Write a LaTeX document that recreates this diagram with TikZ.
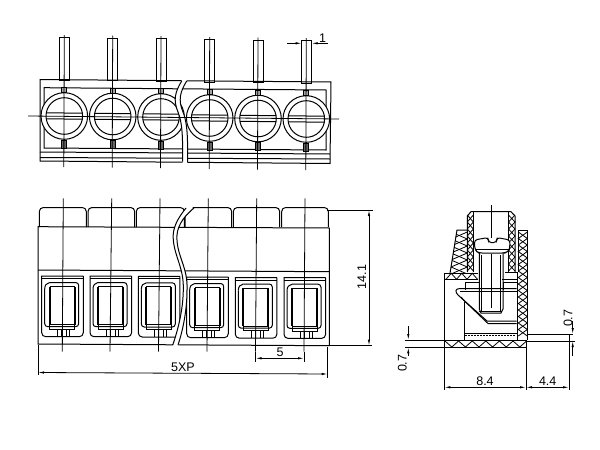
\documentclass[tikz,border=0pt]{standalone}
\usepackage{fontspec}
\setmainfont{Liberation Sans}
\usetikzlibrary{arrows.meta}
\tikzset{
	part/.style={black, line width=1pt},
	heavy/.style={black, line width=1.8pt},
	thin line/.style={black, line width=0.8pt},
	dimline/.style={black, line width=0.8pt, {Latex[length=6pt,width=2.4pt]}-{Latex[length=6pt,width=2.4pt]}},
	dimend/.style={black, line width=0.8pt, -{Latex[length=6pt,width=2.4pt]}},
	dimtext/.style={font=\fontsize{12.5}{12.5}\selectfont, inner sep=0pt}
}
\newcommand{\crosshatch}[5]{
	\foreach \i in {1,...,#4} {
		\draw [thin line] (#1,#3+\i*#5-#5) -- ++(#2,#5/2) -- ++(-#2,#5/2);
		\draw [thin line] (#1+#2,#3+\i*#5-#5) -- ++(-#2,#5/2) -- ++(#2,#5/2);
	}
}
\begin{document}
\begin{tikzpicture}[x=1pt,y=-1pt]
	\useasboundingbox [fill=white] (0,0) rectangle (600,450);

	\draw [part] (40,79.5) -- (331,82) -- (330,163.5) -- (40,161) -- cycle;
	\draw [part] (44,87.7) -- (326,90) -- (326,150) -- (44,148) -- cycle;
	\draw [part] (40,152) -- (330,154);
	\draw [part] (40,157.5) -- (330,159);
	\foreach \px/\py in {64.3/116, 112.7/116.5, 161/117, 209.7/118, 258/118.5, 306.3/119} {
		\draw [part] (\px-5,\py-78.5) rectangle (\px+5,\py-36);
		\draw [part, fill=white] (\px,\py) circle (23.3);
		\draw [part, fill=white] (\px,\py) circle (18.3);
		\draw [part] (\px-18,\py-3.2) -- (\px+18,\py-2.8);
		\draw [part] (\px-18,\py+2.8) -- (\px+18,\py+3.2);
		\draw [part, fill=black!35] (\px-2.5,\py-28.3) rectangle (\px+2.5,\py-23.3);
		\draw [part, fill=black!60] (\px-2.5,\py+24) rectangle (\px+2.5,\py+32);
		\draw [thin line] (\px,\py-81) -- (\px-0.5,\py+51);
	}
	\fill [white] (181.7,78) -- (181.7,81) .. controls (175,92) and (173,100) .. (178,112) .. controls (182,122) and (183,135) .. (182.5,166) -- (187.5,166) .. controls (188,135) and (187,122) .. (183,112) .. controls (178,100) and (180,92) .. (186.7,81) -- (186.7,78) -- cycle;
	\draw [part] (181.7,81) .. controls (175,92) and (173,100) .. (178,112) .. controls (182,122) and (183,135) .. (182.5,161.5);
	\draw [part] (186.7,81) .. controls (180,92) and (178,100) .. (183,112) .. controls (187,122) and (188,135) .. (187.5,162.5);
	\draw [thin line] (28,116) -- (339,119);

	\coordinate (pinL) at (301.7,43.3);
	\coordinate (pinR) at (311.7,43.3);
	\draw [dimend] (287,43.3) -- (pinL);
	\draw [dimend] (328,43.3) -- (pinR);
	\node [dimtext] (labelOne) at (322.7,37.7) {1};

	\foreach \cx/\cw in {39.3/47, 88/46.7, 136.3/48, 185/46.7, 233.3/46.4, 281.7/46.6} {
		\draw [part, rounded corners=4pt] (\cx,227) -- (\cx,207.5) -- (\cx+\cw,207.5) -- (\cx+\cw,227);
	}
	\draw [part] (38,226.7) -- (329.3,228) -- (329.3,345.7) -- (38,344) -- cycle;
	\draw [part] (38,270) -- (329.3,271.7);
	\foreach \wx/\wy in {41.7/276, 90/276, 138.3/276.3, 186.7/277, 235.3/277.5, 284/277.7} {
		\begin{scope}[shift={(\wx,\wy)}]
			\draw [part] (41.6,0) -- (0,0) [rounded corners=4pt] -- (0,60.7) -- (41.6,60.7) -- (41.6,0);
			\draw [part] (0,2.5) -- (41.6,2.5);
			\draw [part, rounded corners=3pt] (3,13) -- (3,50.7) -- (37,50.7) -- (37,6.5) -- (8,6.5);
			\draw [part] (3,13) .. controls (3,9) and (5,7) .. (8,6.5);
			\draw [heavy] (8,10.5) -- (8,48.5);
			\draw [heavy] (33,10.5) -- (33,48.5);
			\draw [part] (8,10.5) -- (33,10.5);
			\draw [part] (8,48.5) -- (33,48.5) -- (33,53.3) -- (8,53.3) -- cycle;
			\foreach \fx in {16,20,25,28} {
				\draw [part] (\fx,53.3) -- (\fx,60.7);
			}
		\end{scope}
	}
	\fill [white] (186,206) -- (186,208) .. controls (178,218) and (172,228) .. (173.3,240) .. controls (175,258) and (184,268) .. (183.3,290) .. controls (183,310) and (178,330) .. (172.7,347) -- (178,347) .. controls (183,330) and (187,310) .. (187,290) .. controls (188,268) and (178,258) .. (177,240) .. controls (176,228) and (182,218) .. (194,206) -- cycle;
	\draw [part] (186,208) .. controls (178,218) and (172,228) .. (173.3,240) .. controls (175,258) and (184,268) .. (183.3,290) .. controls (183,310) and (178,330) .. (172.7,345);
	\draw [part] (194,208) .. controls (182,218) and (176,228) .. (177,240) .. controls (178,258) and (188,268) .. (187,290) .. controls (187,310) and (183,330) .. (178,345);
	\foreach \lx/\lb in {63.3/62.3, 111.7/110, 160/158.5, 208.3/207, 256.7/255.5, 305/304} {
		\draw [thin line] (\lx,198.3) -- (\lb,351.7);
	}

	\draw [thin line] (326.7,210) -- (373,210);
	\draw [thin line] (330,345.7) -- (371.7,345.7);
	\draw [dimline] (369,210) -- (369,345.7);
	\node [dimtext, rotate=90] (labelHeight) at (361.7,277) {14.1};
	\draw [thin line] (255.5,351.7) -- (255.5,361.7);
	\draw [thin line] (304,351.7) -- (304,361.7);
	\draw [dimline] (255.5,358.3) -- (304,358.3);
	\node [dimtext] (labelPitch) at (280,352) {5};
	\draw [thin line] (38,345) -- (38,375);
	\draw [thin line] (327.7,346.7) -- (327.7,378);
	\draw [dimline] (38,372.5) -- (327.7,374);
	\node [dimtext] (labelWidth) at (183,367.2) {5XP};

	\draw [part] (467.3,272) -- (467.3,216) -- (471,211.7) -- (511,211.7) -- (515,216) -- (515,272);
	\draw [part] (473.3,212) -- (473.3,272);
	\draw [part] (508.5,212) -- (508.5,272);
	\crosshatch{467.3}{6}{215}{4}{14}
	\crosshatch{508.5}{6.5}{215}{4}{14}
	\draw [part] (467.3,230) -- (457,230) -- (450,273.3);
	\begin{scope}
		\clip (457,230) -- (467.3,230) -- (467.3,273.3) -- (450,273.3) -- cycle;
		\crosshatch{451}{16.3}{232}{3}{14}
	\end{scope}
	\draw [part] (444.3,273.3) -- (478,273.3);
	\draw [part] (444.3,279.3) -- (478,279.3);
	\foreach \i in {0,1,2} {
		\draw [thin line] (446+\i*10.5,279.3) -- ++(5.25,-6) -- ++(5.25,6);
	}
	\draw [part] (518.3,272) -- (518.3,230.7) -- (527.3,230.7) -- (527.3,340);
	\draw [part] (517,272) -- (517,340);
	\draw [part] (505,272) -- (518.3,272);
	\draw [part] (502,279.3) -- (517,279.3);
	\crosshatch{518.3}{9}{232}{8}{13}
	\draw [part] (444.3,273.3) -- (444.3,347.3) -- (526.7,347.3) -- (526.7,340);
	\draw [part] (444.3,340) -- (526.7,340);
	\foreach \i in {0,...,5} {
		\draw [thin line] (445+\i*13.6,341) -- ++(6.8,6) -- ++(6.8,-6);
	}
	\draw [part] (464,301.7) -- (464,340);
	\draw [heavy, line width=1.2pt] (464,333.5) -- (517,333.5);
	\draw [thin line, dash pattern=on 1.5pt off 1.5pt] (465,335.8) -- (516,335.8);

	\draw [part, fill=white, rounded corners=3pt] (475,250.5) -- (474.3,240) -- (488.3,237.5) -- (488.3,242.5) -- (496.7,242.5) -- (496.7,237.5) -- (510,240) -- (509.5,250.5) -- (505,253) -- (479,253) -- cycle;
	\draw [part] (475,249) -- (509.5,249);
	\draw [part] (479.3,253) -- (479.3,309) -- (481,313) -- (501,313) -- (503,309) -- (503,253);
	\draw [part] (481.7,255) -- (481.7,311);
	\draw [part] (500.3,255) -- (500.3,311);
	\draw [heavy, line width=1.2pt] (478.5,311.5) -- (502,311.5);
	\draw [thin line] (491,205) -- (491,238);

	\draw [part] (465,290) -- (465,282.7) -- (478.5,282.7);
	\draw [part] (516.7,282.7) -- (503.3,282.7) -- (503.3,290);
	\draw [part] (516.7,288.5) -- (460,288.5) .. controls (455,288.5) and (455,292) .. (458,295) -- (487,321) -- (516.7,321);
	\draw [part] (460,291) -- (516.7,291);
	\draw [part] (461,297) -- (464.5,301) -- (488,323.5) -- (516.7,323.5);
	\draw [thin line] (491,254) -- (491,308);

	\draw [part] (527.3,334) -- (572.7,334);
	\draw [part] (527,341) -- (575,341);
	\draw [thin line] (405,340) -- (444,340);
	\draw [thin line] (405,347.3) -- (444,347.3);
	\draw [dimend] (408.3,326) -- (408.3,340);
	\draw [dimend] (408.3,356) -- (408.3,347.3);
	\node [dimtext, rotate=90] (labelLipL) at (402.3,363.3) {0.7};
	\draw [dimend] (572.7,321) -- (572.7,334);
	\draw [dimend] (572.7,356) -- (572.7,341);
	\node [dimtext, rotate=90] (labelLipR) at (568,318.3) {0.7};
	\draw [thin line] (444.3,347) -- (444.3,390);
	\draw [thin line] (526,347) -- (526,390);
	\draw [thin line] (569,334) -- (569,390);
	\draw [dimline] (444.3,387.3) -- (526,387.3);
	\draw [dimline] (526,387.3) -- (569,387.3);
	\node [dimtext] (labelDepth) at (485,381.5) {8.4};
	\node [dimtext] (labelLead) at (547.7,381.5) {4.4};
\end{tikzpicture}
\end{document}
